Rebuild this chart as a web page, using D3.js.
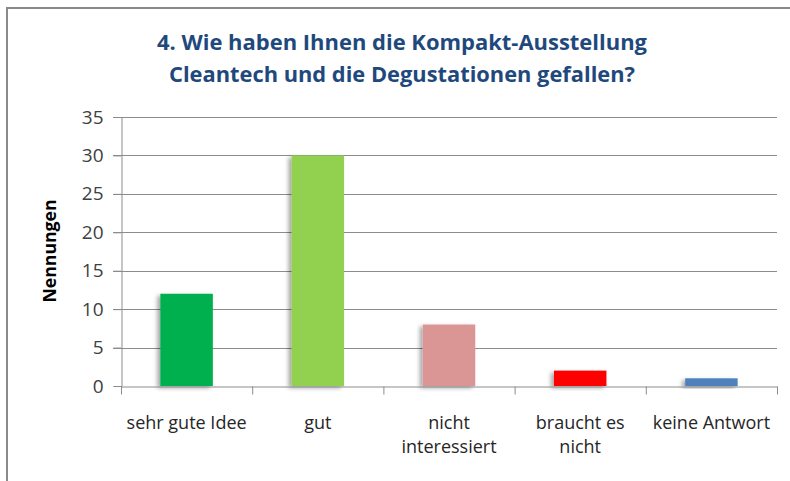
<!DOCTYPE html>
<html>
<head>
<meta charset="utf-8">
<script src="https://cdn.jsdelivr.net/npm/d3@7"></script>
<style>
  html, body { margin: 0; padding: 0; background: #fff; }
  svg { display: block; font-family: "Open Sans", Lato, sans-serif; }
</style>
</head>
<body>
<svg id="chart"></svg>
<script>
// Data
const categories = ["sehr gute Idee", "gut", "nicht interessiert", "braucht es nicht", "keine Antwort"];
const values = [12, 30, 8, 2, 1];
const barColors = ["#00b050", "#92d050", "#d99694", "#ff0000", "#4f81bd"];
const yTicks = [0, 5, 10, 15, 20, 25, 30, 35];
const titleLines = ["4. Wie haben Ihnen die Kompakt-Ausstellung", "Cleantech und die Degustationen gefallen?"];
const yLabel = "Nennungen";

const W = 790, H = 481;
const margin = { top: 117, right: 13, bottom: 95, left: 121 };
const width = W - margin.left - margin.right;
const height = H - margin.top - margin.bottom;

const root = d3.select("#chart").attr("width", W).attr("height", H);

// Shadow for bars
const defs = root.append("defs");
const f = defs.append("filter").attr("id", "shadow")
  .attr("x", "-30%").attr("y", "-30%").attr("width", "160%").attr("height", "160%");
f.append("feDropShadow")
  .attr("dx", -3).attr("dy", 2).attr("stdDeviation", 2)
  .attr("flood-color", "#000").attr("flood-opacity", 0.35);

// Chart frame
root.append("rect")
  .attr("x", 7).attr("y", 8)
  .attr("width", 820).attr("height", 520)
  .attr("fill", "none")
  .attr("stroke", "#8a8a8a")
  .attr("stroke-width", 2);

// Title (widths)
const titleWidths = [490, 466];
root.selectAll(".title")
  .data(titleLines)
  .enter()
  .append("text")
  .attr("class", "title")
  .attr("x", 402)
  .attr("y", (d, i) => 50 + i * 32)
  .attr("text-anchor", "middle")
  .attr("textLength", (d, i) => titleWidths[i])
  .attr("lengthAdjust", "spacingAndGlyphs")
  .style("font-size", "21px")
  .style("font-weight", "700")
  .style("fill", "#1f497d")
  .text(d => d);

const svg = root.append("g")
  .attr("transform", `translate(${margin.left},${margin.top})`);

// Scales
const xScale = d3.scaleBand()
  .domain(categories)
  .range([0, width])
  .paddingInner(0.6)
  .paddingOuter(0.3);

const xTickScale = d3.scaleBand().domain(categories).range([0, width]);

const yScale = d3.scaleLinear()
  .domain([0, 35])
  .range([height, 0]);

// Gridlines
svg.append("g")
  .selectAll("line")
  .data(yTicks.filter(d => d > 0))
  .enter()
  .append("line")
  .attr("x1", -8).attr("x2", width)
  .attr("y1", d => Math.round(yScale(d)) + 0.5)
  .attr("y2", d => Math.round(yScale(d)) + 0.5)
  .attr("stroke", "#8c8c8c")
  .attr("stroke-width", 1);

// Y-axis
const yAxis = svg.append("g")
  .attr("transform", "translate(0.5,0)")
  .call(d3.axisLeft(yScale).tickValues(yTicks).tickSize(8).tickPadding(10));
yAxis.select(".domain").attr("stroke", "#8c8c8c");
yAxis.selectAll(".tick line").attr("stroke", "#8c8c8c");
yAxis.selectAll(".tick text")
  .style("font-family", "'Open Sans', sans-serif")
  .style("font-size", "19px")
  .style("fill", "#404040");

// Bars
svg.selectAll(".bar")
  .data(values)
  .enter()
  .append("rect")
  .attr("class", "bar")
  .attr("x", (d, i) => xScale(categories[i]))
  .attr("width", xScale.bandwidth())
  .attr("y", d => yScale(d))
  .attr("height", d => height - yScale(d))
  .attr("fill", (d, i) => barColors[i])
  .attr("filter", "url(#shadow)");

// X-axis
const xAxis = svg.append("g")
  .attr("transform", `translate(0,${Math.round(height) + 0.5})`)
  .call(d3.axisBottom(xTickScale).tickSize(0).tickPadding(0));
xAxis.select(".domain").attr("stroke", "#8c8c8c");

// Category boundary ticks
xAxis.selectAll(".sep")
  .data(categories.concat([null]))
  .enter()
  .append("line")
  .attr("x1", (d, i) => i * xTickScale.step() + 0.5)
  .attr("x2", (d, i) => i * xTickScale.step() + 0.5)
  .attr("y1", 0).attr("y2", 8)
  .attr("stroke", "#8c8c8c");

// Wrap category labels to the band width
xAxis.selectAll(".tick text")
  .attr("dy", null)
  .attr("y", null)
  .style("font-family", "'Open Sans', sans-serif")
  .style("font-size", "18px")
  .style("fill", "#262626")
  .each(function(d) {
    const text = d3.select(this);
    const words = d.split(" ");
    text.text(null);
    const lines = [];
    let line = [];
    const probe = text.append("tspan");
    words.forEach(w => {
      line.push(w);
      probe.text(line.join(" "));
      if (probe.node().getComputedTextLength() > xTickScale.bandwidth() - 2 && line.length > 1) {
        line.pop();
        lines.push(line.join(" "));
        line = [w];
      }
    });
    lines.push(line.join(" "));
    probe.remove();
    lines.forEach((l, i) => {
      text.append("tspan")
        .attr("x", 0)
        .attr("y", 42 + i * 24)
        .text(l);
    });
  });

// Y-axis label
root.append("text")
  .attr("transform", "translate(56,251) rotate(-90)")
  .attr("text-anchor", "middle")
  .attr("textLength", 103)
  .attr("lengthAdjust", "spacingAndGlyphs")
  .style("font-size", "17px")
  .style("font-weight", "700")
  .style("fill", "#000")
  .text(yLabel);
</script>
</body>
</html>
